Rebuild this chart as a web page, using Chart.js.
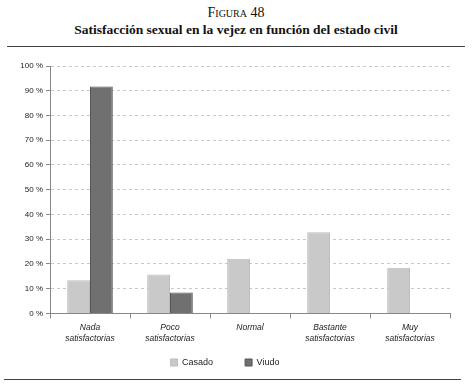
<!DOCTYPE html>
<html>
<head>
<meta charset="utf-8">
<script src="https://cdn.jsdelivr.net/npm/chart.js@4/dist/chart.umd.min.js"></script>
<style>
  body { margin: 0; background: #fff; width: 472px; height: 387px; position: relative; overflow: hidden; }
  .fig { position: absolute; top: 5px; left: 0; width: 472px; text-align: center; font-family: "Liberation Serif", serif; font-size: 14px; font-variant: small-caps; color: #111; }
  .titulo { position: absolute; top: 22px; left: 0; width: 472px; text-align: center; font-family: "Liberation Serif", serif; font-weight: bold; font-size: 13.5px; color: #111; }
  .linea { position: absolute; height: 1.5px; background: #444; }
  #caja { position: absolute; left: 0; top: 56px; width: 472px; height: 321px; }
</style>
</head>
<body>
<div class="fig">Figura 48</div>
<div class="titulo">Satisfacción sexual en la vejez en función del estado civil</div>
<div class="linea" style="top:45.5px; left:7px; width:458px;"></div>
<div class="linea" style="top:378.5px; left:4px; width:457px;"></div>
<div id="caja"><canvas id="grafico"></canvas></div>
<script>
const categorias = [
  ["Nada", "satisfactorias"],
  ["Poco", "satisfactorias"],
  "Normal",
  ["Bastante", "satisfactorias"],
  ["Muy", "satisfactorias"]
];
const casado = [13.4, 15.7, 22.1, 32.8, 18.5];
const viudo = [91.7, 8.4, null, null, null];

const fuente = "'Liberation Sans', Arial, sans-serif";

const canvas = document.getElementById("grafico");
const grafico = new Chart(canvas, {
  type: "bar",
  data: {
    labels: categorias,
    datasets: [
      {
        label: "Casado",
        data: casado,
        backgroundColor: "#c9c9c9",
        borderColor: "#bdbdbd",
        borderWidth: 1,
        categoryPercentage: 0.57,
        barPercentage: 1
      },
      {
        label: "Viudo",
        data: viudo,
        backgroundColor: "#707070",
        borderColor: "#555555",
        borderWidth: 1,
        categoryPercentage: 0.57,
        barPercentage: 1
      }
    ]
  },
  options: {
    responsive: true,
    maintainAspectRatio: false,
    animation: false,
    layout: { padding: { left: 0, right: 22, top: 10, bottom: 0 } },
    plugins: {
      tooltip: { enabled: false },
      legend: {
        position: "bottom",
        labels: {
          boxWidth: 7,
          boxHeight: 7,
          padding: 9.5,
          color: "#222",
          font: { family: fuente, size: 9 },
          // separacion entre items como en el original
          generateLabels: (chart) => {
            const items = Chart.defaults.plugins.legend.labels.generateLabels(chart);
            items[0].text = items[0].text + "         ";
            return items;
          }
        }
      }
    },
    scales: {
      x: {
        grid: { drawOnChartArea: false, drawTicks: true, tickLength: 5, color: "#888" },
        border: { color: "#888", width: 1 },
        ticks: {
          color: "#222",
          padding: 4,
          font: { family: fuente, size: 8.5, style: "italic", lineHeight: 1.3 },
          maxRotation: 0
        }
      },
      y: {
        min: 0,
        max: 100,
        afterFit: (escala) => { escala.width = 50; },
        ticks: {
          stepSize: 10,
          color: "#222",
          padding: 3,
          font: { family: fuente, size: 8 },
          callback: (v) => v + " %"
        },
        grid: { color: "#c8c8c8", tickColor: "#888", tickLength: 4, tickBorderDash: [] },
        border: { color: "#888", width: 1, dash: [3, 3] }
      }
    }
  }
});
</script>
</body>
</html>
